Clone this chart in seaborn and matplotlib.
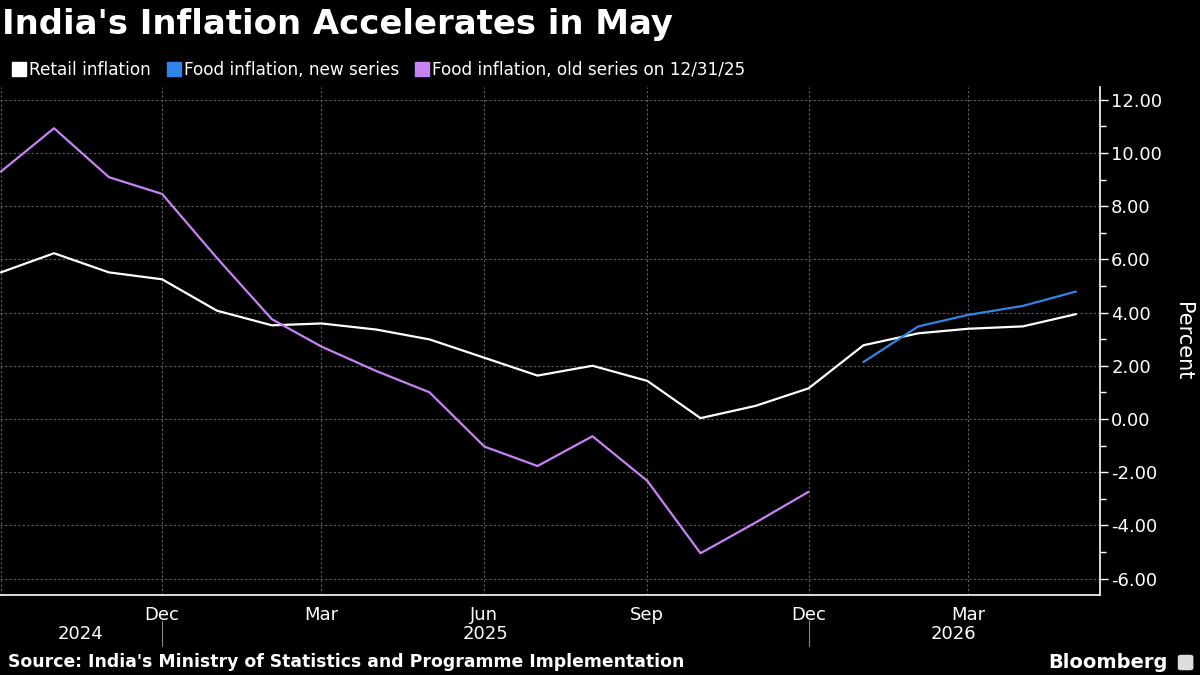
import pandas as pd
import matplotlib
matplotlib.use("Agg")
import matplotlib.pyplot as plt
import matplotlib.dates as mdates
import matplotlib.transforms as mtransforms
from matplotlib.lines import Line2D
from matplotlib.patches import FancyBboxPatch
from matplotlib.ticker import MultipleLocator, FormatStrFormatter, FuncFormatter
import seaborn as sns

# data (monthly, Sep 2024 - May 2026)
months = pd.date_range("2024-09-01", "2026-05-01", freq="MS")
retail = [5.51, 6.23, 5.51, 5.25, 4.07, 3.52, 3.59, 3.36, 2.99, 2.30, 1.63, 2.00,
          1.43, 0.03, 0.49, 1.15, 2.77, 3.22, 3.39, 3.48, 3.94]
food_old = [9.30, 10.93, 9.09, 8.46, 6.05, 3.75, 2.72, 1.80, 1.00, -1.04, -1.77, -0.65,
            -2.33, -5.05, -3.90, -2.74]
food_new = [2.14, 3.48, 3.91, 4.25, 4.79]

names = ["Retail inflation", "Food inflation, new series", "Food inflation, old series on 12/31/25"]
colors = ["#ffffff", "#2f86e6", "#c683f5"]

df = pd.concat([
    pd.DataFrame({"date": months, "value": retail, "series": names[0]}),
    pd.DataFrame({"date": months[-len(food_new):], "value": food_new, "series": names[1]}),
    pd.DataFrame({"date": months[:len(food_old)], "value": food_old, "series": names[2]}),
])

sns.set_theme(style="dark", rc={"figure.facecolor": "black", "axes.facecolor": "black",
                                "text.color": "white"})
plt.rcParams["font.family"] = ["DejaVu Sans"]

fig = plt.figure(figsize=(12, 6.75), dpi=100)
ax = fig.add_axes([0.0, 0.1185, 0.9167, 0.7526])

sns.lineplot(data=df, x="date", y="value", hue="series", hue_order=names,
             palette=colors, linewidth=1.6, legend=False, ax=ax)

xmin, xmax = pd.Timestamp("2024-08-31 12:00"), pd.Timestamp("2026-05-14 14:00")
ax.set_xlim(xmin, xmax)
ax.set_ylim(-6.62, 12.48)

# y axis on the right
ax.yaxis.tick_right()
ax.yaxis.set_label_position("right")
ax.yaxis.set_major_locator(MultipleLocator(2))
ax.yaxis.set_minor_locator(MultipleLocator(1))
ax.yaxis.set_major_formatter(FormatStrFormatter("%.2f"))
ax.set_ylabel("Percent", color="white", fontsize=15, rotation=270, labelpad=22)
ax.set_xlabel("")


def month_label(x, pos):
    d = mdates.num2date(x)
    # the first month sits on the left edge and is not labelled
    if d.year == 2024 and d.month == 9:
        return ""
    return d.strftime("%b")


ax.xaxis.set_major_locator(mdates.MonthLocator(bymonth=[3, 6, 9, 12]))
ax.xaxis.set_minor_locator(mdates.MonthLocator())
ax.xaxis.set_major_formatter(FuncFormatter(month_label))

ax.tick_params(axis="y", which="major", direction="out", length=6, width=1,
               color="white", labelcolor="white", labelsize=13, pad=2)
ax.tick_params(axis="y", which="minor", direction="out", length=4, width=1, color="white")
ax.tick_params(axis="x", which="both", direction="out", length=5, width=1,
               color="white", labelcolor="white", labelsize=13, pad=3)

for side in ["left", "top"]:
    ax.spines[side].set_visible(False)
for side in ["right", "bottom"]:
    ax.spines[side].set_visible(True)
    ax.spines[side].set_color("white")
    ax.spines[side].set_linewidth(1.2)

ax.grid(True, which="major", color="#5e5e5e", linestyle=(0, (2, 2)), linewidth=0.8)
ax.set_axisbelow(True)

# year labels and separators under the axis
trans = mtransforms.blended_transform_factory(ax.transData, ax.transAxes)
years = [("2024", "2024-08-31", "2024-12-01"),
         ("2025", "2024-12-01", "2025-12-01"),
         ("2026", "2025-12-01", "2026-05-14")]
for label, start, end in years:
    s, e = mdates.date2num(pd.Timestamp(start)), mdates.date2num(pd.Timestamp(end))
    ax.text((s + e) / 2, -0.077, label, transform=trans, ha="center", va="center",
            color="white", fontsize=13)
for sep in ["2024-12-01", "2025-12-01"]:
    x = mdates.date2num(pd.Timestamp(sep))
    ax.plot([x, x], [-0.052, -0.1], transform=trans, color="#8a8a8a",
            linewidth=0.8, clip_on=False)

# legend
handles = [Line2D([], [], marker="s", linestyle="", markersize=10, color=c) for c in colors]
fig.legend(handles, names, loc="center left", bbox_to_anchor=(-0.002, 0.896), ncol=3,
           frameon=False, handlelength=0.7, handletextpad=0.25, columnspacing=1.0,
           fontsize=12.2, labelcolor="white")

fig.text(0.002, 0.963, "India's Inflation Accelerates in May", fontsize=24.4,
         fontweight="bold", color="white", va="center", ha="left")
fig.text(0.007, 0.019, "Source: India's Ministry of Statistics and Programme Implementation",
         fontsize=12.4, fontweight="bold", color="white", va="center", ha="left")
fig.text(0.973, 0.019, "Bloomberg", fontsize=14, fontweight="bold", color="white",
         va="center", ha="right")

# small logo mark
fig.patches.append(FancyBboxPatch((0.9825, 0.008), 0.011, 0.021,
                                  boxstyle="round,pad=0.001,rounding_size=0.003",
                                  transform=fig.transFigure, facecolor="#dddddd",
                                  edgecolor="none"))

fig.savefig("out.png", dpi=100, facecolor="black")
